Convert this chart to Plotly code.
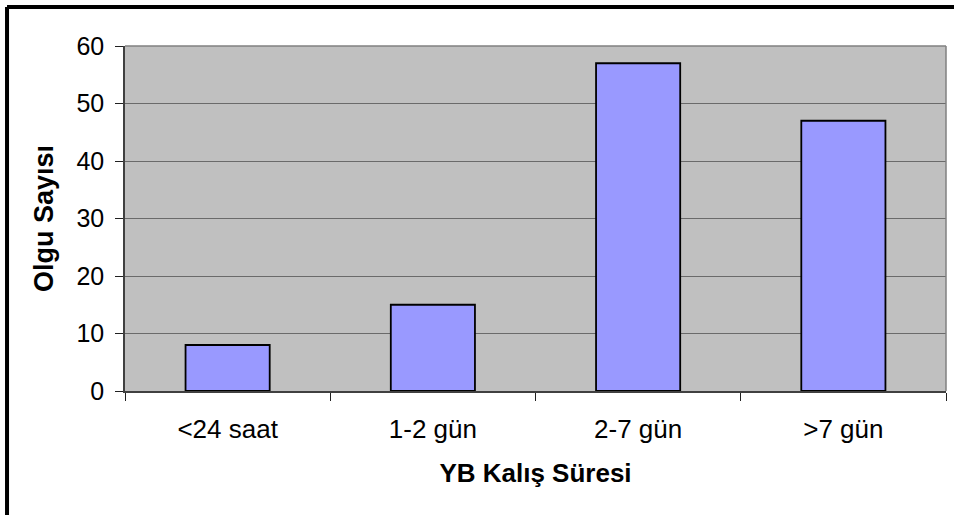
import plotly.graph_objects as go

# Length of stay categories and case counts
categories = ["<24 saat", "1-2 gün", "2-7 gün", ">7 gün"]
counts = [8, 15, 57, 47]
y_ticks = [0, 10, 20, 30, 40, 50, 60]

FONT = "Liberation Sans, Arial, sans-serif"

fig = go.Figure(
    go.Bar(
        x=categories,
        y=counts,
        marker=dict(color="#9999FF", line=dict(color="#000000", width=1.8)),
    )
)

fig.update_layout(
    width=954,
    height=515,
    margin=dict(l=125, r=8, t=46, b=124),
    paper_bgcolor="#FFFFFF",
    plot_bgcolor="#C0C0C0",
    bargap=0.59,
    showlegend=False,
    font=dict(family=FONT, color="#000000", size=25),
)

fig.update_xaxes(
    showline=True,
    linecolor="#404040",
    linewidth=1.5,
    mirror=False,
    ticks="outside",
    tickson="boundaries",
    ticklen=8,
    tickwidth=1.2,
    tickcolor="#202020",
    tickfont=dict(size=26, family=FONT),
    ticklabelstandoff=14,
    showgrid=False,
    title=dict(
        text="<b>YB Kalış Süresi</b>",
        font=dict(size=26, family=FONT),
        standoff=21,
    ),
)

fig.update_yaxes(
    range=[0, 60],
    tickvals=y_ticks,
    showline=True,
    linecolor="#404040",
    linewidth=1.5,
    ticks="outside",
    ticklen=8,
    tickwidth=1.2,
    tickcolor="#202020",
    tickfont=dict(size=25, family=FONT),
    ticklabelstandoff=6,
    showgrid=True,
    gridcolor="#6A6A6A",
    gridwidth=1.3,
    zeroline=False,
    title=dict(
        text="<b>Olgu Sayısı</b>",
        font=dict(size=27, family=FONT),
        standoff=15,
    ),
)

# Plot-area outline (top and right edges)
fig.add_shape(type="line", xref="paper", yref="paper", x0=0, x1=1, y0=1, y1=1,
              line=dict(color="#808080", width=1.5))
fig.add_shape(type="line", xref="paper", yref="paper", x0=1, x1=1, y0=0, y1=1,
              line=dict(color="#808080", width=1.5))

# Heavy black frame along the top and left of the chart
fig.add_shape(type="line", xref="paper", yref="paper",
              x0=-0.1437, x1=1.02, y0=1.113, y1=1.113,
              line=dict(color="#000000", width=4))
fig.add_shape(type="line", xref="paper", yref="paper",
              x0=-0.1437, x1=-0.1437, y0=1.113, y1=-0.37,
              line=dict(color="#000000", width=4))

fig.write_html("out.html")
